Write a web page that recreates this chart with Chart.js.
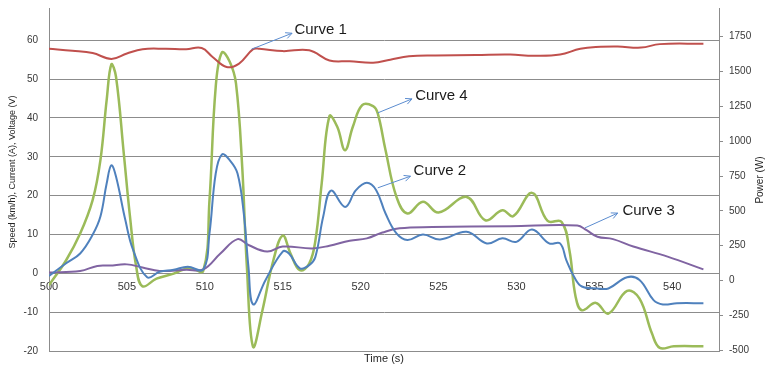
<!DOCTYPE html>
<html>
<head>
<meta charset="utf-8">
<script src="https://cdn.jsdelivr.net/npm/chart.js@4.4.1/dist/chart.umd.min.js"></script>
<style>
  html, body { margin: 0; padding: 0; background: #fff; }
</style>
</head>
<body>
<canvas id="myChart" width="766" height="368"></canvas>
<script>
// tick labels
var timeTicks = [500, 505, 510, 515, 520, 525, 530, 535, 540];
var leftTicks = [-20, -10, 0, 10, 20, 30, 40, 50, 60];
var powerTicks = [-500, -250, 0, 250, 500, 750, 1000, 1250, 1500, 1750];

// Curve 1 - voltage (V), left axis
var curve1Time = [500, 501.5, 502.8, 504.0, 505, 506.0, 507.5, 508.8, 509.8, 510.5, 511.4, 512.2, 513.1, 513.5, 515, 516.7, 518, 519.3, 520.8, 521.9, 523.1, 524.8, 527.4, 529.6, 531.1, 532.8, 534.1, 535.4, 536.5, 538, 539.2, 542];
var curve1Values = [57.8, 57.3, 56.7, 55.2, 56.6, 57.7, 57.8, 57.7, 58.0, 55.7, 53.1, 54.0, 57.7, 57.8, 57.2, 57.4, 54.8, 54.6, 54.2, 55.0, 55.9, 56.1, 56.2, 56.3, 56.0, 56.3, 57.8, 58.3, 58.4, 58.1, 59.0, 59.1];

// Curve 2 - current (A), left axis
var curve2Time = [500, 501.1, 502, 502.8, 503.3, 503.7, 504.0, 504.3, 504.9, 505.4, 506.3, 507.1, 508, 508.9, 509.9, 510.3, 510.7, 511.1, 511.6, 512.1, 512.5, 512.8, 513.1, 513.9, 515, 515.4, 516.1, 516.7, 517.1, 517.6, 518.1, 519, 519.7, 520.4, 521, 521.6, 522.3, 523, 524, 525.1, 526.8, 528.1, 529.1, 530, 531, 532.1, 532.8, 533.2, 533.7, 534.2, 535.2, 535.9, 537.1, 537.9, 538.8, 539.4, 540.3, 542];
var curve2Values = [-0.7, 2.6, 5.1, 9.9, 14.6, 23.1, 27.8, 24.9, 13.7, 6.0, -1.0, 0.4, 0.9, 1.7, 1.0, 10.3, 25.7, 30.6, 29.1, 25.7, 15.4, 1.7, -8.0, -1.7, 5.6, 5.1, 1.3, 2.1, 4.3, 14.6, 21.3, 17.1, 21.4, 23.3, 21.4, 15.4, 10.3, 8.6, 10.0, 8.7, 10.7, 7.7, 9.0, 8.1, 11.3, 7.7, 7.7, 3.4, -0.9, -3.4, -3.9, -3.9, -1.0, -1.7, -6.9, -8.0, -7.7, -7.7];

// Curve 3 - speed (km/h), left axis
var curve3Time = [500, 502, 503.1, 503.9, 505, 506, 507.1, 508.8, 509.9, 511, 512.1, 512.8, 514, 515, 516.9, 518, 519.3, 520.4, 521.4, 522.5, 524.6, 529.6, 533.9, 534.5, 535.2, 536.2, 537.5, 539.7, 542];
var curve3Values = [0.2, 0.6, 1.9, 2.0, 2.3, 1.5, 0.6, 0.9, 1.0, 5.1, 8.8, 7.3, 5.6, 6.9, 6.4, 7.1, 8.4, 9.0, 10.5, 11.6, 11.9, 12.1, 12.3, 11.1, 9.4, 8.8, 6.9, 4.3, 1.0];

// Curve 4 - power (W), right axis
var curve4Time = [500, 501.1, 502, 502.8, 503.3, 503.7, 504, 504.3, 504.8, 505.2, 505.6, 506, 506.9, 508, 509, 509.9, 510.3, 510.7, 511.1, 511.6, 512, 512.4, 512.7, 513.1, 513.7, 514.4, 515, 515.5, 516.1, 516.7, 517.1, 517.5, 518, 518.5, 519, 519.5, 520.1, 520.8, 521.1, 521.6, 522.3, 523, 524, 525, 526.8, 528, 529.1, 529.8, 531, 532, 532.9, 533.4, 533.8, 534.2, 535.1, 535.9, 537.1, 537.9, 538.7, 539.2, 540.1, 542];
var curve4Values = [-33, 146, 337, 577, 864, 1294, 1550, 1462, 911, 457, 98, -41, 14, 50, 91, 69, 577, 1390, 1636, 1569, 1414, 816, 98, -476, -213, 146, 323, 194, 74, 122, 289, 696, 1179, 1103, 935, 1103, 1258, 1251, 1199, 935, 600, 481, 565, 488, 600, 433, 505, 462, 629, 428, 421, 218, -117, -213, -160, -237, -74, -129, -380, -483, -471, -471];

// callouts, in data units (time, left axis value)
var callouts = [
    { text: 'Curve 1', from: [513.0, 57.7], to: [515.6, 61.8], at: [515.75, 62.6] },
    { text: 'Curve 4', from: [521.1, 41.3], to: [523.3, 44.9], at: [523.5, 45.6] },
    { text: 'Curve 2', from: [521.1, 22.0], to: [523.2, 25.0], at: [523.4, 26.3] },
    { text: 'Curve 3', from: [534.4, 11.7], to: [536.5, 15.5], at: [536.8, 16.0] }
];

var FONT = "'Liberation Sans', Arial, sans-serif";
var GRID = '#8c8c8c';
var TICK = '#383838';

function points(ts, vs) {
    return ts.map(function (t, i) { return { x: t, y: vs[i] }; });
}

function useTicks(values) {
    return function (scale) {
        scale.ticks = values.map(function (v) { return { value: v }; });
    };
}

function fixWidth(w) {
    return function (scale) {
        scale.width = w;
        scale.paddingTop = 0;
        scale.paddingBottom = 0;
    };
}

function plain(v) { return String(v); }

var extras = {
    id: 'extras',
    afterDatasetsDraw: function (chart) {
        var c = chart.ctx, x = chart.scales.x, y = chart.scales.y;
        c.save();
        callouts.forEach(function (a) {
            var x0 = x.getPixelForValue(a.from[0]), y0 = y.getPixelForValue(a.from[1]);
            var x1 = x.getPixelForValue(a.to[0]), y1 = y.getPixelForValue(a.to[1]);
            var ang = Math.atan2(y1 - y0, x1 - x0);
            c.strokeStyle = '#5b8ccf';
            c.lineWidth = 1;
            c.beginPath();
            c.moveTo(x0, y0);
            c.lineTo(x1, y1);
            c.moveTo(x1 - 7 * Math.cos(ang - 0.45), y1 - 7 * Math.sin(ang - 0.45));
            c.lineTo(x1, y1);
            c.lineTo(x1 - 7 * Math.cos(ang + 0.45), y1 - 7 * Math.sin(ang + 0.45));
            c.stroke();
            c.fillStyle = '#1a1a1a';
            c.font = '15px ' + FONT;
            c.textAlign = 'left';
            c.textBaseline = 'middle';
            c.fillText(a.text, x.getPixelForValue(a.at[0]), y.getPixelForValue(a.at[1]));
        });
        c.restore();
    },
    afterDraw: function (chart) {
        var c = chart.ctx, area = chart.chartArea;
        c.save();
        c.fillStyle = '#262626';
        c.textAlign = 'center';
        c.textBaseline = 'middle';
        c.font = '11px ' + FONT;
        c.fillText('Time (s)', (area.left + area.right) / 2, 359);
        c.translate(13, 172);
        c.rotate(-Math.PI / 2);
        c.font = '9px ' + FONT;
        c.fillText('Speed (km/h), Current (A), Voltage (V)', 0, 0);
        c.restore();
        c.save();
        c.fillStyle = '#262626';
        c.textAlign = 'center';
        c.textBaseline = 'middle';
        c.translate(760, 180);
        c.rotate(-Math.PI / 2);
        c.font = '10px ' + FONT;
        c.fillText('Power (W)', 0, 0);
        c.restore();
    }
};

var ctx = document.getElementById('myChart').getContext('2d');
var myChart = new Chart(ctx, {
    type: 'line',
    data: {
        datasets: [
            { label: 'Curve 1', data: points(curve1Time, curve1Values), borderColor: '#c0504d', yAxisID: 'y' },
            { label: 'Curve 2', data: points(curve2Time, curve2Values), borderColor: '#4f81bd', yAxisID: 'y' },
            { label: 'Curve 3', data: points(curve3Time, curve3Values), borderColor: '#8064a2', yAxisID: 'y' },
            { label: 'Curve 4', data: points(curve4Time, curve4Values), borderColor: '#9bbb59', borderWidth: 2.5, yAxisID: 'y1' }
        ]
    },
    options: {
        responsive: false,
        animation: false,
        layout: { autoPadding: false, padding: { top: 8, bottom: 17, left: 0, right: 0 } },
        elements: {
            point: { radius: 0 },
            line: { tension: 0.4, borderWidth: 2, fill: false }
        },
        plugins: { legend: { display: false }, tooltip: { enabled: false } },
        scales: {
            x: {
                type: 'linear',
                position: { y: 0 },
                min: 500,
                max: 543,
                afterBuildTicks: useTicks(timeTicks),
                grid: { display: false, drawTicks: false },
                border: { display: false },
                ticks: { padding: 7, color: TICK, font: { family: FONT, size: 11 }, maxRotation: 0, autoSkip: false, callback: plain }
            },
            y: {
                position: 'left',
                min: -20,
                max: 68.3,
                afterBuildTicks: useTicks(leftTicks),
                afterFit: fixWidth(49),
                grid: { color: GRID, drawTicks: false },
                border: { color: GRID },
                ticks: { padding: 11, color: TICK, font: { family: FONT, size: 10 }, autoSkip: false, callback: plain }
            },
            y1: {
                position: 'right',
                min: -505,
                max: 1955,
                afterBuildTicks: useTicks(powerTicks),
                afterFit: fixWidth(47),
                grid: { drawOnChartArea: false, tickLength: 4, color: GRID },
                border: { color: GRID },
                ticks: { padding: 6, color: TICK, font: { family: FONT, size: 10 }, autoSkip: false, callback: plain }
            }
        }
    },
    plugins: [extras]
});
</script>
</body>
</html>
